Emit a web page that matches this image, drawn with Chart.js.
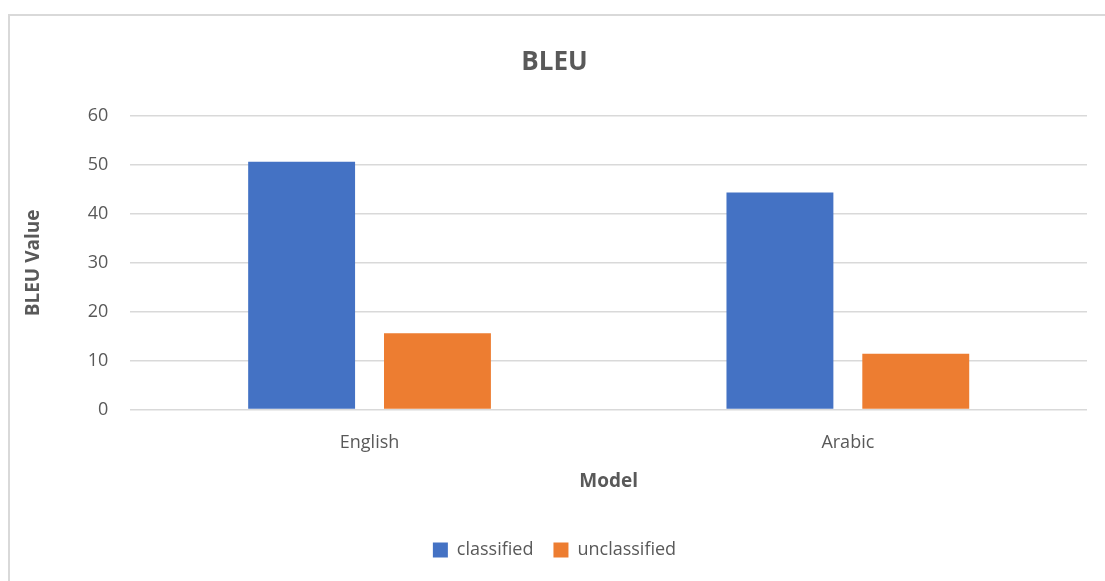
<!DOCTYPE html>
<html>
<head>
<meta charset="utf-8">
<script src="https://cdn.jsdelivr.net/npm/chart.js@4/dist/chart.umd.min.js"></script>
<style>
  html, body { margin: 0; padding: 0; background: #fff; }
  #wrap { position: absolute; left: 0; top: 0; width: 1105px; height: 581px; }
</style>
</head>
<body>
<div id="wrap"><canvas id="bleuChart"></canvas></div>
<script>
const models = ['English', 'Arabic'];
const classified = [50.7, 44.4];
const unclassified = [15.6, 11.4];
const yTicks = [0, 10, 20, 30, 40, 50, 60];

const FONT = '"Open Sans", "Noto Sans", sans-serif';
const GREY = '#595959';

// light frame around the chart like the office chart box
const framePlugin = {
  id: 'frame',
  beforeDraw(chart) {
    const ctx = chart.ctx;
    ctx.save();
    ctx.fillStyle = '#fff';
    ctx.fillRect(0, 0, chart.width, chart.height);
    ctx.strokeStyle = '#d9d9d9';
    ctx.lineWidth = 2;
    ctx.strokeRect(9, 15, 1200, 700);
    ctx.restore();
  }
};

new Chart(document.getElementById('bleuChart'), {
  type: 'bar',
  data: {
    labels: models,
    datasets: [
      { label: 'classified', data: classified, backgroundColor: '#4472c4' },
      { label: 'unclassified', data: unclassified, backgroundColor: '#ed7d31' }
    ]
  },
  options: {
    responsive: true,
    maintainAspectRatio: false,
    animation: false,
    categoryPercentage: 0.568,
    barPercentage: 0.787,
    layout: { padding: { top: 47, left: 22, right: 18, bottom: 12 } },
    plugins: {
      title: {
        display: true,
        text: 'BLEU',
        color: GREY,
        font: { family: FONT, size: 26, weight: 'bold' },
        padding: { top: 0, bottom: 38 }
      },
      legend: {
        position: 'bottom',
        labels: {
          color: GREY,
          font: { family: FONT, size: 18 },
          boxWidth: 15,
          boxHeight: 15,
          padding: 20
        }
      },
      tooltip: { enabled: false }
    },
    scales: {
      x: {
        grid: { display: false },
        border: { display: false },
        ticks: { color: GREY, font: { family: FONT, size: 18 }, padding: 14 },
        title: {
          display: true,
          text: 'Model',
          color: GREY,
          font: { family: FONT, size: 19, weight: 'bold' },
          padding: { top: 3, bottom: 28 }
        }
      },
      y: {
        min: 0,
        max: 60,
        afterBuildTicks(axis) { axis.ticks = yTicks.map(v => ({ value: v })); },
        grid: { color: '#d9d9d9', lineWidth: 1.5, drawTicks: false },
        border: { display: false },
        ticks: { color: GREY, font: { family: FONT, size: 18 }, padding: 22 },
        title: {
          display: true,
          text: 'BLEU Value',
          color: GREY,
          font: { family: FONT, size: 19, weight: 'bold' },
          padding: { top: 0, bottom: 21 }
        }
      }
    }
  },
  plugins: [framePlugin]
});
</script>
</body>
</html>
